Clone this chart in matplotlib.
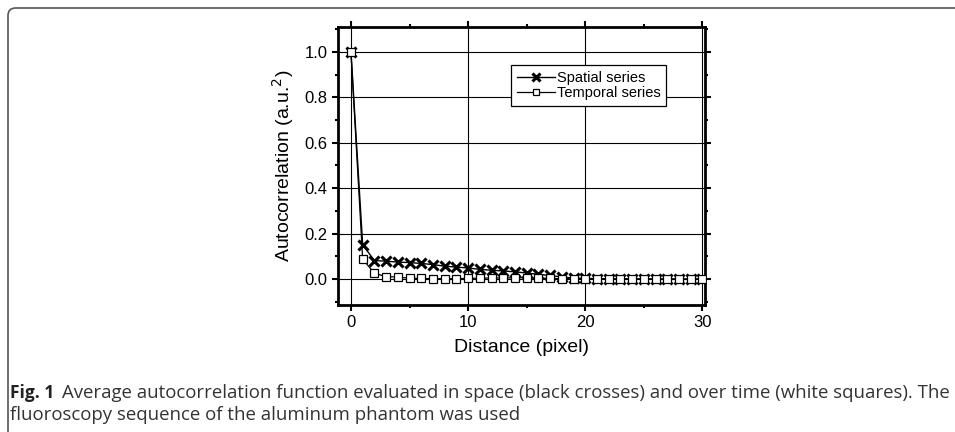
import numpy as np
import matplotlib
matplotlib.use('agg')
import matplotlib.pyplot as plt
from matplotlib.patches import FancyBboxPatch
from matplotlib.ticker import MultipleLocator, FormatStrFormatter

matplotlib.rc('font', family=['Liberation Sans', 'DejaVu Sans'])

# Autocorrelation vs. distance (pixel lag)
distance = np.arange(0, 31)
spatial = [1.0, 0.150, 0.081, 0.078, 0.074, 0.072, 0.068, 0.063, 0.056, 0.052,
           0.048, 0.042, 0.038, 0.035, 0.031, 0.026, 0.020, 0.015, 0.008, 0.004,
           0.002, 0.001, 0.000, 0.000, -0.001, -0.001, -0.002, -0.002, -0.002, -0.002,
           -0.001]
temporal = [1.0, 0.087, 0.025, 0.010, 0.008, 0.003, 0.002, 0.001, 0.001, 0.001,
            0.002, 0.003, 0.004, 0.004, 0.005, 0.005, 0.004, 0.002, 0.001, 0.001,
            0.000, 0.000, 0.000, 0.000, 0.000, 0.000, 0.000, 0.000, 0.000, 0.000,
            0.000]
caption_line1 = 'Average autocorrelation function evaluated in space (black crosses) and over time (white squares). The'
caption_line2 = 'fluoroscopy sequence of the aluminum phantom was used'
cap_family = ['Open Sans', 'DejaVu Sans']

fig = plt.figure(figsize=(9.55, 4.32), dpi=100)
ax = fig.add_axes([0.354, 0.294, 0.384, 0.6435])

ax.plot(distance, spatial, '-', color='k', lw=1, marker='x', ms=6.5, mew=2.2,
        label='Spatial series', zorder=3)
ax.plot(distance, temporal, '-', color='k', lw=0.9, marker='s', ms=5.5, mfc='white',
        mec='k', mew=0.9, label='Temporal series', zorder=4)

ax.set_xlim(-1.1, 30.2)
ax.set_ylim(-0.115, 1.11)
ax.xaxis.set_major_locator(MultipleLocator(10))
ax.xaxis.set_minor_locator(MultipleLocator(5))
ax.yaxis.set_major_locator(MultipleLocator(0.2))
ax.yaxis.set_minor_locator(MultipleLocator(0.1))
ax.yaxis.set_major_formatter(FormatStrFormatter('%.1f'))
ax.grid(True, which='major', color='k', lw=0.8)
ax.tick_params(which='both', direction='out', top=True, right=True, labelsize=12,
               width=1.5, colors='k')
ax.tick_params(which='major', length=4)
ax.tick_params(which='minor', length=2.5)
for sp in ax.spines.values():
    sp.set_linewidth(2)

ax.set_xlabel('Distance (pixel)', fontsize=14, labelpad=6)
ax.set_ylabel('Autocorrelation (a.u.$^2$)', fontsize=14, labelpad=6)

leg = ax.legend(loc='upper left', bbox_to_anchor=(0.471, 0.862), fontsize=10.5,
                frameon=True, fancybox=False, edgecolor='k', framealpha=1,
                handlelength=2.6, borderpad=0.4, labelspacing=0.05,
                handletextpad=0.15, borderaxespad=0, markerscale=0.8)
leg.get_frame().set_linewidth(0.9)

# rounded frame around the figure panel, open to the right and bottom
frame = FancyBboxPatch((8 / 955, -0.2), 1.2, 1 - 8 / 432 + 0.2,
                       boxstyle='round,pad=0,rounding_size=0.008',
                       transform=fig.transFigure, fill=False, ec='#555555',
                       lw=1.2, mutation_aspect=955 / 432)
fig.patches.append(frame)

fig.text(10 / 955, 1 - 393 / 432, 'Fig. 1', fontsize=12.5, fontweight='bold',
         family=cap_family, color='#222222', va='center')
cap1 = fig.text(62 / 955, 1 - 393 / 432, caption_line1, fontsize=12,
                family=cap_family, color='#333333', va='center')
cap2 = fig.text(10 / 955, 1 - 415 / 432, caption_line2, fontsize=12,
                family=cap_family, color='#333333', va='center')

# fit the first caption line to the panel width
renderer = fig.canvas.get_renderer()
w = cap1.get_window_extent(renderer).width
size = 12 * (948 - 62) / w
cap1.set_fontsize(size)
cap2.set_fontsize(size)

fig.savefig('out.png', dpi=100)
